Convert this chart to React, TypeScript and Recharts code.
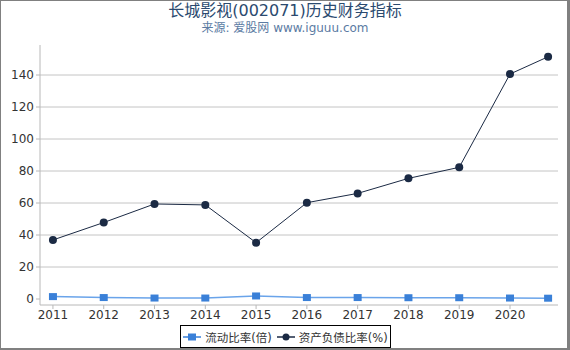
import { LineChart, Line, XAxis, YAxis, ReferenceLine } from "recharts";

// reporting dates as fractional years (last one is Q3 2020)
const periods = [2011, 2012, 2013, 2014, 2015, 2016, 2017, 2018, 2019, 2020, 2020.75];
const currentRatio = [1.5, 0.9, 0.6, 0.6, 1.9, 0.9, 0.9, 0.8, 0.8, 0.6, 0.5];
const debtRatio = [36.9, 47.8, 59.4, 58.8, 35.2, 60.2, 66, 75.4, 82.3, 140.6, 151.4];
const xTicks = [2011, 2012, 2013, 2014, 2015, 2016, 2017, 2018, 2019, 2020];
const yTicks = [0, 20, 40, 60, 80, 100, 120, 140];
const gridTicks = [20, 40, 60, 80, 100, 120, 140];

const data = periods.map((p, i) => ({
  period: p,
  current: currentRatio[i],
  debt: debtRatio[i],
}));

const FONT = '"DejaVu Sans", "Noto Sans CJK SC", sans-serif';
const CURRENT_COLOR = "#3a80d8";
const DEBT_COLOR = "#1b2a44";

function SquareDot(props: any) {
  const { cx, cy } = props;
  if (cx == null || cy == null) return null;
  return <rect x={cx - 4} y={cy - 3.5} width={8} height={7} fill={CURRENT_COLOR} />;
}

function LegendIcon({ kind }: { kind: "square" | "circle" }) {
  const color = kind === "square" ? CURRENT_COLOR : DEBT_COLOR;
  return (
    <svg width={18} height={10} style={{ marginRight: 4 }}>
      <line x1={0} y1={5} x2={18} y2={5} stroke={color} strokeWidth={1.5} />
      {kind === "square" ? (
        <rect x={5} y={1.5} width={8} height={7} fill={color} />
      ) : (
        <circle cx={9} cy={5} r={3.5} fill={color} />
      )}
    </svg>
  );
}

export default function App() {
  return (
    <div
      style={{
        position: "absolute",
        left: 0,
        top: 0,
        width: 570,
        height: 350,
        background: "#fff",
        fontFamily: FONT,
      }}
    >
      <div
        style={{
          position: "absolute",
          top: 1,
          width: 570,
          textAlign: "center",
          fontSize: 16,
          color: "#2b4a6f",
          lineHeight: "20px",
        }}
      >
        长城影视(002071)历史财务指标
      </div>
      <div
        style={{
          position: "absolute",
          top: 20,
          width: 570,
          textAlign: "center",
          fontSize: 12,
          color: "#5b7ba3",
          lineHeight: "16px",
        }}
      >
        来源: 爱股网 www.iguuu.com
      </div>

      <LineChart
        width={570}
        height={350}
        data={data}
        margin={{ top: 45, right: 12, bottom: 0, left: 0 }}
        style={{ position: "absolute", left: 0, top: 0 }}
      >
        <XAxis
          dataKey="period"
          type="number"
          domain={[2010.745, 2020.945]}
          ticks={xTicks}
          interval={0}
          height={45}
          stroke="#b8b8b8"
          tickSize={4}
          tickMargin={1}
          tick={{ fontSize: 12, fill: "#333", fontFamily: FONT }}
        />
        <YAxis
          type="number"
          domain={[-3.75, 158.75]}
          ticks={yTicks}
          interval={0}
          width={40}
          stroke="#b8b8b8"
          tickSize={4}
          tickMargin={2}
          tick={{ fontSize: 12, fill: "#333", fontFamily: FONT }}
        />
        {gridTicks.map((v) => (
          <ReferenceLine key={v} y={v} stroke="#c4c4c4" strokeWidth={1} ifOverflow="visible" />
        ))}
        <Line
          dataKey="current"
          name="流动比率(倍)"
          stroke="#6aa4ea"
          strokeWidth={1.5}
          dot={<SquareDot />}
          activeDot={false}
          isAnimationActive={false}
        />
        <Line
          dataKey="debt"
          name="资产负债比率(%)"
          stroke={DEBT_COLOR}
          strokeWidth={1}
          dot={{ r: 4, fill: DEBT_COLOR, stroke: DEBT_COLOR, strokeWidth: 0 }}
          activeDot={false}
          isAnimationActive={false}
        />
      </LineChart>

      <div
        style={{
          position: "absolute",
          left: 180,
          top: 325,
          width: 211,
          height: 23,
          boxSizing: "border-box",
          border: "1px solid #000",
          display: "flex",
          alignItems: "center",
          justifyContent: "center",
          fontSize: 11.5,
          color: "#333",
          fontFamily: FONT,
          background: "#fff",
          whiteSpace: "nowrap",
        }}
      >
        <LegendIcon kind="square" />
        <span style={{ marginRight: 5 }}>流动比率(倍)</span>
        <LegendIcon kind="circle" />
        <span>资产负债比率(%)</span>
      </div>

      <div
        style={{
          position: "absolute",
          left: 0,
          top: 0,
          width: 570,
          height: 350,
          boxSizing: "border-box",
          borderTop: "1px solid #808080",
          borderLeft: "1px solid #808080",
          borderRight: "3px solid #808080",
          borderBottom: "2px solid #808080",
          pointerEvents: "none",
        }}
      />
    </div>
  );
}
